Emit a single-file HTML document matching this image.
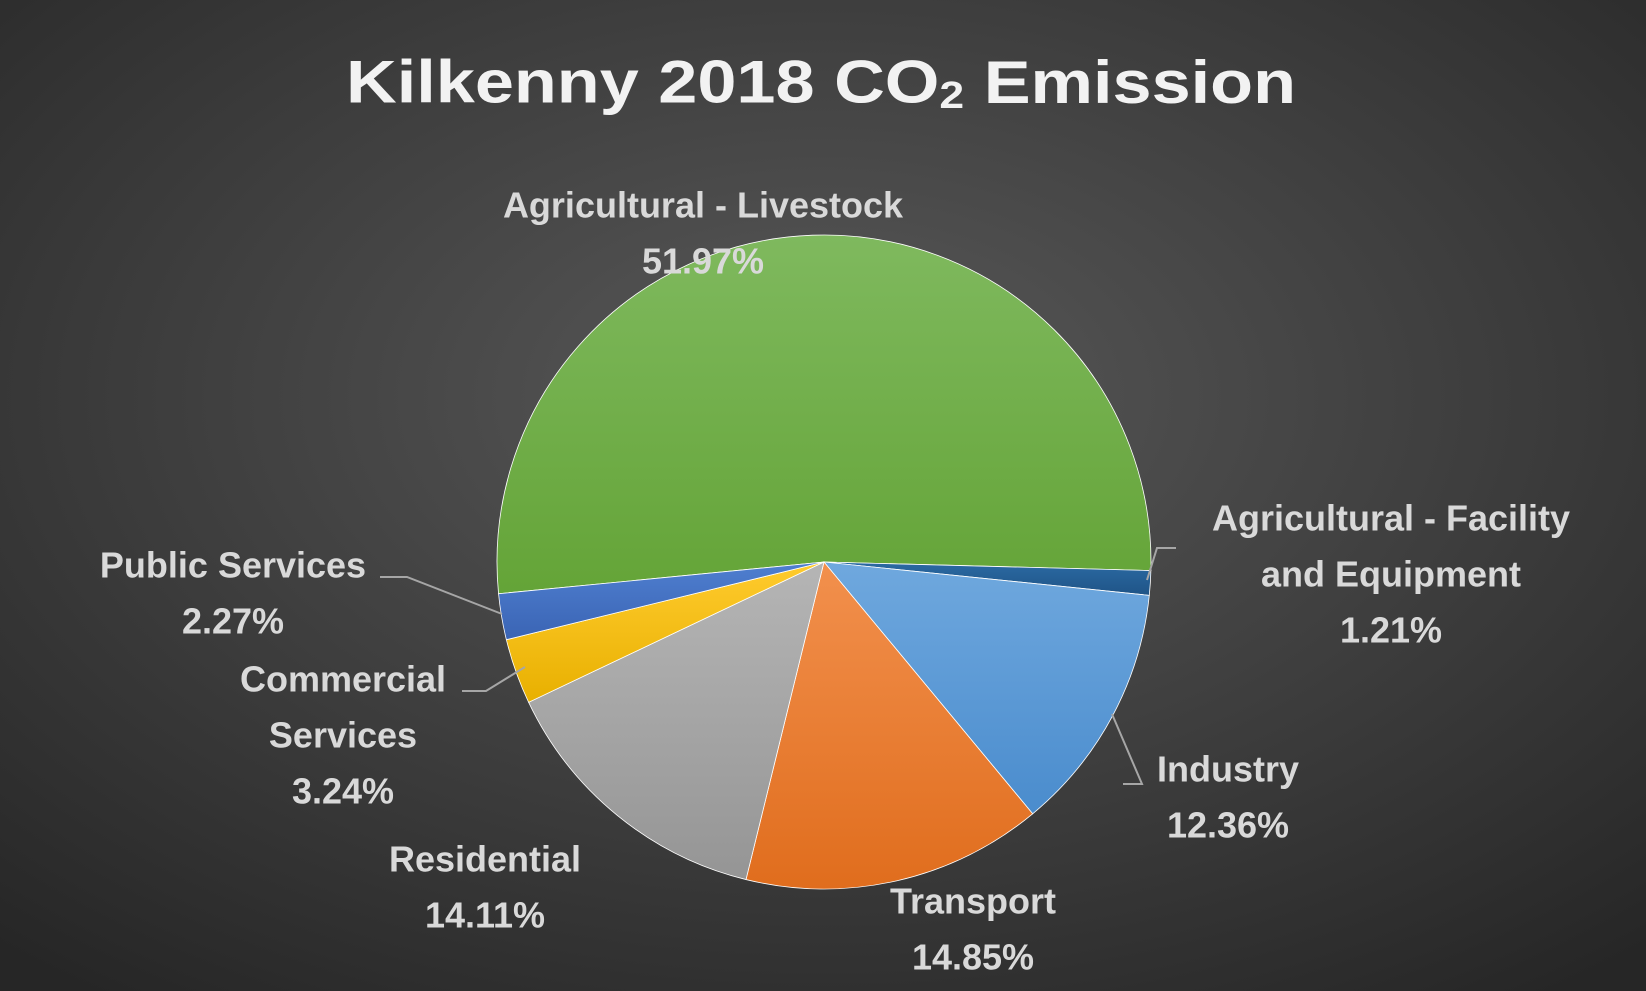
<!DOCTYPE html>
<html><head><meta charset="utf-8">
<style>
html,body{margin:0;padding:0;width:1646px;height:991px;overflow:hidden;background:#333;}
svg{display:block;font-family:"Liberation Sans",sans-serif;}
.lbl{fill:#d9d9d9;font-weight:bold;font-size:36px;}
</style></head>
<body>
<svg id="chart" width="1646" height="991" viewBox="0 0 1646 991">
<defs>
<radialGradient id="bg" cx="50%" cy="40%" r="75%">
<stop offset="0" stop-color="#595959"/><stop offset="1" stop-color="#262626"/>
</radialGradient>
<linearGradient id="gGreen" x1="0" y1="0" x2="0" y2="1"><stop offset="0" stop-color="#7fb95e"/><stop offset="1" stop-color="#64a437"/></linearGradient>
<linearGradient id="gDark" x1="0" y1="0" x2="0" y2="1"><stop offset="0" stop-color="#2b6aa3"/><stop offset="1" stop-color="#1f5487"/></linearGradient>
<linearGradient id="gLBlue" x1="0" y1="0" x2="0" y2="1"><stop offset="0" stop-color="#6fa8de"/><stop offset="1" stop-color="#4a8ccd"/></linearGradient>
<linearGradient id="gOrange" x1="0" y1="0" x2="0" y2="1"><stop offset="0" stop-color="#f2904d"/><stop offset="1" stop-color="#e06d1d"/></linearGradient>
<linearGradient id="gGrey" x1="0" y1="0" x2="0" y2="1"><stop offset="0" stop-color="#b5b5b5"/><stop offset="1" stop-color="#959595"/></linearGradient>
<linearGradient id="gGold" x1="0" y1="0" x2="0" y2="1"><stop offset="0" stop-color="#ffcb2e"/><stop offset="1" stop-color="#e8b000"/></linearGradient>
<linearGradient id="gBlue" x1="0" y1="0" x2="0" y2="1"><stop offset="0" stop-color="#4f7fd0"/><stop offset="1" stop-color="#3a64b4"/></linearGradient>
</defs>
<rect x="0" y="0" width="1646" height="991" fill="url(#bg)"/>
<text x="821" y="82" text-anchor="middle" dominant-baseline="central" fill="#f2f2f2" font-weight="bold" font-size="60" textLength="950" lengthAdjust="spacingAndGlyphs">Kilkenny 2018 CO<tspan font-size="38" dy="14">2</tspan><tspan dy="-14"> Emission</tspan></text>
<g id="slices"></g>
<g stroke="#a6a6a6" stroke-width="2" fill="none">
<polyline points="380,577 407,577 502,614"/>
<polyline points="462,691 486,691 525,667"/>
<polyline points="1123,784 1142,784 1112,714"/>
<polyline points="1176,548 1157,548 1147,580"/>
</g>
<g id="labels"></g>
</svg>
<script>
const categories = ["Agricultural - Livestock","Agricultural - Facility and Equipment","Industry","Transport","Residential","Commercial Services","Public Services"];
const values = [51.97,1.21,12.36,14.85,14.11,3.24,2.27];
const valueLabels = ["51.97%","1.21%","12.36%","14.85%","14.11%","3.24%","2.27%"];
const fills = ["url(#gGreen)","url(#gDark)","url(#gLBlue)","url(#gOrange)","url(#gGrey)","url(#gGold)","url(#gBlue)"];
const labelLines = [["Agricultural - Livestock"],["Agricultural - Facility","and Equipment"],["Industry"],["Transport"],["Residential"],["Commercial","Services"],["Public Services"]];
const labelPos = [[703,205],[1391,518],[1228,769],[973,901],[485,859],[343,679],[233,565]];
const cx=824, cy=562, r=327;
const ns="http://www.w3.org/2000/svg";
const total = values.reduce((a,b)=>a+b,0);
function angleOf(v){return v/total*2*Math.PI;}
let a = 1.5*Math.PI/180 - angleOf(values[0]);
const sg=document.getElementById('slices');
values.forEach((v,i)=>{
  const a1=a, a2=a+angleOf(v); a=a2;
  const x1=cx+r*Math.cos(a1), y1=cy+r*Math.sin(a1), x2=cx+r*Math.cos(a2), y2=cy+r*Math.sin(a2);
  const large=(a2-a1)>Math.PI?1:0;
  const p=document.createElementNS(ns,'path');
  p.setAttribute('d',`M${cx},${cy} L${x1},${y1} A${r},${r} 0 ${large} 1 ${x2},${y2} Z`);
  p.setAttribute('fill',fills[i]);
  p.setAttribute('stroke','#ffffff');
  p.setAttribute('stroke-width','0.8');
  
  
  sg.appendChild(p);
});
const lg=document.getElementById('labels');


labelLines.forEach((lines,i)=>{
  const all=lines.concat([valueLabels[i]]);
  all.forEach((s,j)=>{
    const t=document.createElementNS(ns,'text');
    t.setAttribute('x',labelPos[i][0]);
    t.setAttribute('y',labelPos[i][1]+j*56);
    t.setAttribute('text-anchor','middle');
    t.setAttribute('dominant-baseline','central');
    t.setAttribute('class','lbl');
    
    
    t.textContent=s;
    lg.appendChild(t);
  });
});
</script>
</body></html>
